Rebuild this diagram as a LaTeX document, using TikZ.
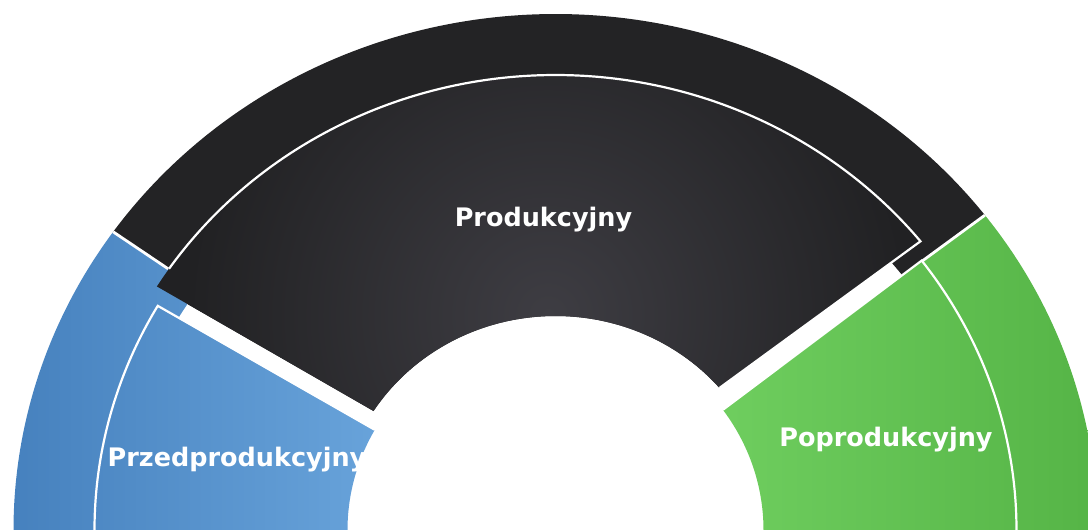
\documentclass[tikz,border=0pt]{standalone}
\usepackage{fontspec}
\setmainfont{DejaVu Sans}
\usetikzlibrary{calc}
\definecolor{bandblack}{HTML}{232325}
\definecolor{glowin}{HTML}{3E3D43}
\definecolor{glowout}{HTML}{212123}
\definecolor{blueL}{HTML}{4580BD}
\definecolor{blueR}{HTML}{6AA5DC}
\definecolor{greenL}{HTML}{70CF60}
\definecolor{greenR}{HTML}{55B446}
\begin{document}
\begin{tikzpicture}[x=1pt,y=1pt,
  sep/.style={white,line width=2.8pt},
  rim/.style={white,line width=2.2pt,line join=miter},
  lbl/.style={text=white,font=\bfseries\fontsize{25.5}{30}\selectfont,inner sep=0pt}]
\useasboundingbox (0,0) rectangle (1088,530);
\clip (0,0) rectangle (1088,530);
\coordinate (O) at (555.5,0);
\coordinate (Ok) at (555.5,8);
\coordinate (Ob) at (563.5,0);
\coordinate (Og) at (547.5,0);

% ---------- outer bands ----------
\fill[bandblack] ($(O)+(37.6:542 and 516)$) arc[start angle=37.6,end angle=144.7,x radius=542,y radius=516]
  -- ($(O)+(144.7:438 and 417)$) arc[start angle=144.7,end angle=37.6,x radius=438,y radius=417] -- cycle;
\begin{scope}
\clip ($(O)+(144.7:542 and 516)$) arc[start angle=144.7,end angle=185,x radius=542,y radius=516]
  -- ($(O)+(185:438 and 417)$) arc[start angle=185,end angle=144.7,x radius=438,y radius=417] -- cycle;
\shade[left color=blueL,right color=blueR] (0,-20) rectangle (400,340);
\end{scope}
\begin{scope}
\clip ($(O)+(-5:542 and 516)$) arc[start angle=-5,end angle=37.6,x radius=542,y radius=516]
  -- ($(O)+(37.6:438 and 417)$) arc[start angle=37.6,end angle=-5,x radius=438,y radius=417] -- cycle;
\shade[left color=greenL,right color=greenR] (700,-20) rectangle (1100,340);
\end{scope}

% ---------- inner pieces ----------
\begin{scope}
\clip ($(Ok)+(38.9:469 and 447)$) arc[start angle=38.9,end angle=148.2,x radius=469,y radius=447]
  -- ($(Ok)+(147.4:216 and 206)$) arc[start angle=147.4,end angle=40.6,x radius=216,y radius=206] -- cycle;
\fill[glowout] (100,0) rectangle (1000,530);
\shade[inner color=glowin,outer color=glowout] (548,215) circle (360);
\end{scope}
\begin{scope}
\clip ($(Ob)+(149.9:469 and 447)$) arc[start angle=149.9,end angle=185,x radius=469,y radius=447]
  -- ($(Ob)+(185:216 and 206)$) arc[start angle=185,end angle=150.9,x radius=216,y radius=206] -- cycle;
\shade[left color=blueL,right color=blueR] (0,-20) rectangle (400,340);
\end{scope}
\begin{scope}
\clip ($(Og)+(-5:469 and 447)$) arc[start angle=-5,end angle=37.07,x radius=469,y radius=447]
  -- ($(Og)+(35.7:216 and 206)$) arc[start angle=35.7,end angle=-5,x radius=216,y radius=206] -- cycle;
\shade[left color=greenL,right color=greenR] (700,-20) rectangle (1100,340);
\end{scope}

% ---------- white separators and rims ----------
\draw[sep] ($(O)+(144.7:542 and 516)$) -- ($(O)+(144.7:474.6 and 452)$);
\draw[sep] ($(O)+(37.6:542 and 516)$) -- ($(O)+(37.6:462 and 440)$);
\draw[rim] ($(Ok)+(145.5:469 and 447)$) arc[start angle=145.5,end angle=38.9,x radius=469,y radius=447]
  -- ($(Ok)+(40.6:216 and 206)$);
\draw[rim] ($(Ob)+(185:469 and 447)$) arc[start angle=185,end angle=149.9,x radius=469,y radius=447]
  -- ($(Ob)+(150.9:216 and 206)$);
\draw[rim] ($(Og)+(-5:469 and 447)$) arc[start angle=-5,end angle=37.07,x radius=469,y radius=447]
  -- ($(Og)+(35.7:216 and 206)$);

% ---------- labels ----------
\node[lbl] (prod) at (543.5,310.5) {Produkcyjny};
\node[lbl] (przed) at (237,70.5) {Przedprodukcyjny};
\node[lbl] (po) at (886,90.5) {Poprodukcyjny};
\end{tikzpicture}
\end{document}
